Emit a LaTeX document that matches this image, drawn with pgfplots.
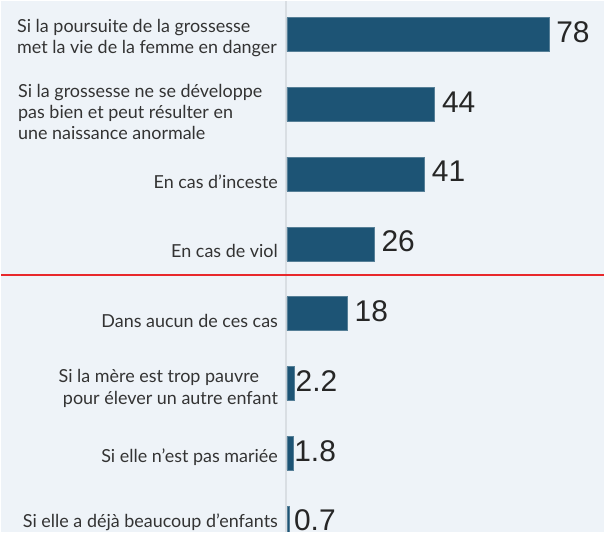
\documentclass[border=0pt]{standalone}
\usepackage{pgfplots}
\pgfplotsset{compat=1.18}
\usepackage{fontspec}
\setmainfont{Lato}
\newfontfamily\valfont{Liberation Sans}
\definecolor{bg}{HTML}{EEF3F8}
\definecolor{barblue}{HTML}{1D5475}
\definecolor{axisgray}{HTML}{D9DEE3}
\definecolor{sepred}{HTML}{E8282B}
\definecolor{labgray}{HTML}{333333}
\definecolor{valgray}{HTML}{262626}

\begin{document}
\begin{tikzpicture}
% background and zero line
\fill[bg] (0,0) rectangle (605pt,533pt);
\draw[axisgray, line width=1.5pt] (286pt,0) -- (286pt,533pt);

\begin{axis}[
  at={(0,0)}, anchor=south west,
  width=605pt, height=533pt, scale only axis,
  xmin=-85.12, xmax=94.37,
  ymin=0, ymax=533, y dir=reverse,
  hide axis,
  xbar, bar width=34pt, bar shift=0pt,
  nodes near coords, point meta=explicit symbolic,
  every node near coord/.append style={font=\valfont\fontsize{30}{30}\selectfont,
    text=valgray, anchor=west, inner sep=0pt, yshift=2.5pt},
]
\addplot[fill=barblue, draw=barblue!75!white, line width=0.6pt, bar shift=0pt,
  every node near coord/.append style={xshift=7pt}]
  coordinates {(78,34) [78] (44,104) [44] (41,174) [41] (26,244) [26] (18,314) [18]};
\addplot[fill=barblue, draw=barblue!75!white, line width=0.6pt, bar shift=0pt,
  every node near coord/.append style={xshift=1pt}]
  coordinates {(2.2,384) [2.2] (1.8,454) [1.8]};
\addplot[fill=barblue, draw=barblue!75!white, line width=0.6pt, bar shift=0pt,
  every node near coord/.append style={xshift=4.5pt, yshift=0.8pt}]
  coordinates {(0.7,524) [0.7]};
\end{axis}

% separator between the two groups
\draw[sepred, line width=2pt] (0,258pt) -- (605pt,258pt);

% category labels
\begin{scope}[every node/.style={inner sep=0pt, text=labgray, font=\fontsize{18}{21}\selectfont}]
\node[anchor=base west] at (16pt,501.5pt) {Si la poursuite de la grossesse};
\node[anchor=base west] at (16pt,480pt) {met la vie de la femme en danger};
\node[anchor=base west] at (17pt,436pt) {Si la grossesse ne se développe};
\node[anchor=base west] at (17pt,415pt) {pas bien et peut résulter en};
\node[anchor=base west] at (17pt,394pt) {une naissance anormale};
\node[anchor=base east] at (278pt,345pt) {En cas d’inceste};
\node[anchor=base east] at (278pt,275pt) {En cas de viol};
\node[anchor=base east] at (278pt,205pt) {Dans aucun de ces cas};
\node[anchor=base east] at (259pt,150pt) {Si la mère est trop pauvre};
\node[anchor=base east] at (278pt,128pt) {pour élever un autre enfant};
\node[anchor=base east] at (278pt,70pt) {Si elle n’est pas mariée};
\node[anchor=base east] at (278pt,5pt) {Si elle a déjà beaucoup d’enfants};
\end{scope}
\end{tikzpicture}
\end{document}
